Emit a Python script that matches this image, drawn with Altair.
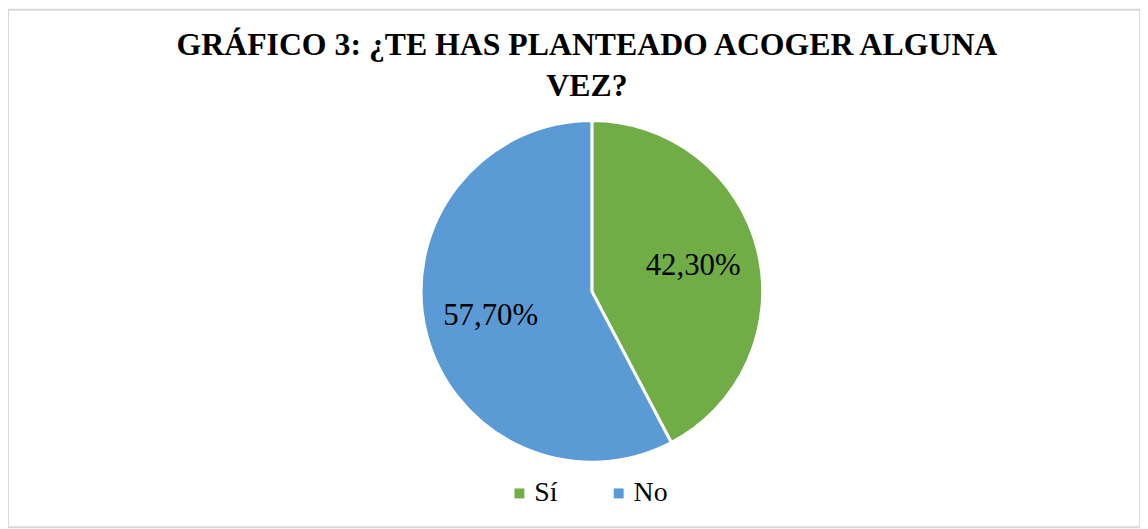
import altair as alt
import pandas as pd

categories = ["Sí", "No"]
values = [42.3, 57.7]
labels = ["42,30%", "57,70%"]
colors = ["#70AD47", "#5B9BD5"]

df = pd.DataFrame({"cat": categories, "val": values, "label": labels, "order": [0, 1]})

FONT = "'Liberation Serif', 'Times New Roman', serif"
CX, CY = 588, 283.5

base = alt.Chart(df).encode(
    theta=alt.Theta("val:Q", stack=True),
    order=alt.Order("order:Q"),
)

pie = base.mark_arc(outerRadius=172, stroke="white", strokeWidth=3).encode(
    x=alt.value(CX),
    y=alt.value(CY),
    color=alt.Color(
        "cat:N",
        scale=alt.Scale(domain=categories, range=colors),
        sort=categories,
        legend=alt.Legend(
            title=None,
            orient="none",
            legendX=501,
            legendY=473,
            direction="horizontal",
            symbolType="square",
            symbolSize=100,
            symbolStrokeWidth=0,
            labelFont=FONT,
            labelFontSize=28,
            labelColor="#000000",
            labelOffset=1,
            columnPadding=47,
        ),
    ),
)

text = base.mark_text(radius=105, font=FONT, fontSize=31, color="#000000").encode(
    x=alt.value(CX),
    y=alt.value(CY),
    text="label:N",
)

chart = (
    alt.layer(pie, text)
    .properties(
        width=1140,
        height=521,
        padding=0,
        autosize=alt.AutoSizeParams(type="none"),
        title=alt.TitleParams(
            text=["GRÁFICO 3: ¿TE HAS PLANTEADO ACOGER ALGUNA", "VEZ?"],
            font=FONT,
            fontSize=32,
            fontWeight="bold",
            color="#000000",
            anchor="middle",
            baseline="top",
            offset=0,
            dx=13,
            dy=94,
            lineHeight=42,
        ),
    )
    .configure_view(stroke="#D9D9D9", strokeWidth=2)
)

chart.save("out.html", embed_options={"renderer": "svg", "actions": False})
